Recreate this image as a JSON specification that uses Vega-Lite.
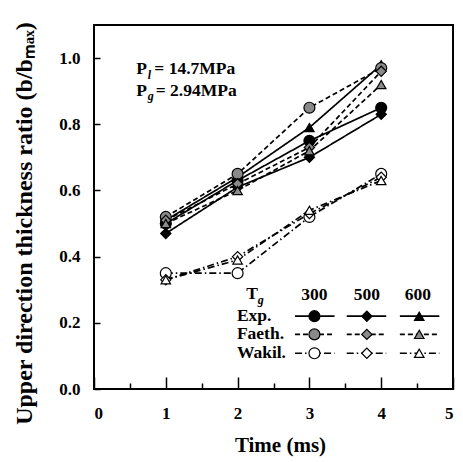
{
  "$schema": "https://vega.github.io/schema/vega-lite/v6.json",
  "width": 359,
  "height": 364,
  "autosize": "none",
  "padding": {"left": 94, "top": 25, "right": 10, "bottom": 73},
  "background": "white",
  "config": {
    "view": {"stroke": "black", "strokeWidth": 2},
    "font": "Liberation Serif",
    "axis": {
      "labelFont": "Liberation Serif",
      "labelFontWeight": "bold",
      "labelFontSize": 17,
      "labelColor": "black",
      "titleFont": "Liberation Serif",
      "titleFontWeight": "bold",
      "titleFontSize": 21,
      "titleColor": "black",
      "tickColor": "black",
      "tickWidth": 1.5,
      "grid": false,
      "domain": false
    }
  },
  "datasets": {
    "main": [
      {"series": "Exp.", "tg": "300", "time": 1, "ratio": 0.50},
      {"series": "Exp.", "tg": "300", "time": 2, "ratio": 0.63},
      {"series": "Exp.", "tg": "300", "time": 3, "ratio": 0.75},
      {"series": "Exp.", "tg": "300", "time": 4, "ratio": 0.85},
      {"series": "Exp.", "tg": "500", "time": 1, "ratio": 0.47},
      {"series": "Exp.", "tg": "500", "time": 2, "ratio": 0.61},
      {"series": "Exp.", "tg": "500", "time": 3, "ratio": 0.70},
      {"series": "Exp.", "tg": "500", "time": 4, "ratio": 0.83},
      {"series": "Exp.", "tg": "600", "time": 1, "ratio": 0.51},
      {"series": "Exp.", "tg": "600", "time": 2, "ratio": 0.64},
      {"series": "Exp.", "tg": "600", "time": 3, "ratio": 0.79},
      {"series": "Exp.", "tg": "600", "time": 4, "ratio": 0.98},
      {"series": "Faeth.", "tg": "300", "time": 1, "ratio": 0.52},
      {"series": "Faeth.", "tg": "300", "time": 2, "ratio": 0.65},
      {"series": "Faeth.", "tg": "300", "time": 3, "ratio": 0.85},
      {"series": "Faeth.", "tg": "300", "time": 4, "ratio": 0.97},
      {"series": "Faeth.", "tg": "500", "time": 1, "ratio": 0.51},
      {"series": "Faeth.", "tg": "500", "time": 2, "ratio": 0.62},
      {"series": "Faeth.", "tg": "500", "time": 3, "ratio": 0.73},
      {"series": "Faeth.", "tg": "500", "time": 4, "ratio": 0.96},
      {"series": "Faeth.", "tg": "600", "time": 1, "ratio": 0.50},
      {"series": "Faeth.", "tg": "600", "time": 2, "ratio": 0.60},
      {"series": "Faeth.", "tg": "600", "time": 3, "ratio": 0.72},
      {"series": "Faeth.", "tg": "600", "time": 4, "ratio": 0.92},
      {"series": "Wakil.", "tg": "300", "time": 1, "ratio": 0.35},
      {"series": "Wakil.", "tg": "300", "time": 2, "ratio": 0.35},
      {"series": "Wakil.", "tg": "300", "time": 3, "ratio": 0.52},
      {"series": "Wakil.", "tg": "300", "time": 4, "ratio": 0.65},
      {"series": "Wakil.", "tg": "500", "time": 1, "ratio": 0.33},
      {"series": "Wakil.", "tg": "500", "time": 2, "ratio": 0.40},
      {"series": "Wakil.", "tg": "500", "time": 3, "ratio": 0.53},
      {"series": "Wakil.", "tg": "500", "time": 4, "ratio": 0.64},
      {"series": "Wakil.", "tg": "600", "time": 1, "ratio": 0.33},
      {"series": "Wakil.", "tg": "600", "time": 2, "ratio": 0.39},
      {"series": "Wakil.", "tg": "600", "time": 3, "ratio": 0.54},
      {"series": "Wakil.", "tg": "600", "time": 4, "ratio": 0.63}
    ],
    "legend": [
      {"series": "Exp.", "tg": "300", "x": 3.07, "x1": 2.80, "x2": 3.35, "y": 0.22},
      {"series": "Exp.", "tg": "500", "x": 3.80, "x1": 3.52, "x2": 4.07, "y": 0.22},
      {"series": "Exp.", "tg": "600", "x": 4.53, "x1": 4.26, "x2": 4.81, "y": 0.22},
      {"series": "Faeth.", "tg": "300", "x": 3.07, "x1": 2.80, "x2": 3.35, "y": 0.165},
      {"series": "Faeth.", "tg": "500", "x": 3.80, "x1": 3.52, "x2": 4.07, "y": 0.165},
      {"series": "Faeth.", "tg": "600", "x": 4.53, "x1": 4.26, "x2": 4.81, "y": 0.165},
      {"series": "Wakil.", "tg": "300", "x": 3.07, "x1": 2.80, "x2": 3.35, "y": 0.108},
      {"series": "Wakil.", "tg": "500", "x": 3.80, "x1": 3.52, "x2": 4.07, "y": 0.108},
      {"series": "Wakil.", "tg": "600", "x": 4.53, "x1": 4.26, "x2": 4.81, "y": 0.108}
    ],
    "texts": [
      {"txt": "T", "x": 2.12, "y": 0.288, "kind": "left"},
      {"txt": "300", "x": 3.07, "y": 0.285, "kind": "center"},
      {"txt": "500", "x": 3.80, "y": 0.285, "kind": "center"},
      {"txt": "600", "x": 4.51, "y": 0.285, "kind": "center"},
      {"txt": "Exp.", "x": 1.99, "y": 0.22, "kind": "left"},
      {"txt": "Faeth.", "x": 1.99, "y": 0.165, "kind": "left"},
      {"txt": "Wakil.", "x": 1.99, "y": 0.108, "kind": "left"},
      {"txt": "P", "x": 0.59, "y": 0.967, "kind": "left"},
      {"txt": "= 14.7MPa", "x": 0.84, "y": 0.967, "kind": "left"},
      {"txt": "P", "x": 0.59, "y": 0.901, "kind": "left"},
      {"txt": "= 2.94MPa", "x": 0.86, "y": 0.901, "kind": "left"},
      {"txt": "g", "x": 2.28, "y": 0.27, "kind": "sub"},
      {"txt": "l", "x": 0.75, "y": 0.950, "kind": "sub"},
      {"txt": "g", "x": 0.75, "y": 0.884, "kind": "sub"}
    ]
  },
  "resolve": {"axis": {"x": "independent"}},
  "layer": [
    {
      "data": {"name": "main"},
      "mark": {"type": "line", "color": "black", "strokeWidth": 1.7},
      "encoding": {
        "x": {
          "field": "time", "type": "quantitative",
          "scale": {"domain": [0, 5], "nice": false},
          "axis": {"values": [0, 1, 2, 3, 4, 5], "tickSize": -12, "labelPadding": 28, "title": "Time (ms)", "titlePadding": 13, "titleX": 186, "orient": "bottom"}
        },
        "y": {
          "field": "ratio", "type": "quantitative",
          "title": "Upper direction thickness ratio (b/bₘₐₓ)",
          "scale": {"domain": [0, 1.1], "nice": false},
          "axis": {"values": [0, 0.2, 0.4, 0.6, 0.8, 1.0], "format": ".1f", "tickSize": -6, "labelPadding": 20, "titlePadding": 22, "titleFontSize": 24, "titleY": 198}
        },
        "detail": [{"field": "series"}, {"field": "tg"}],
        "strokeDash": {
          "field": "series", "type": "nominal",
          "scale": {"domain": ["Exp.", "Faeth.", "Wakil."], "range": [[1, 0], [5, 3], [7, 3, 1.5, 3]]},
          "legend": null
        }
      }
    },
    {
      "data": {"name": "main"},
      "mark": {"type": "point", "filled": true, "stroke": "black", "strokeWidth": 1.2, "opacity": 1},
      "encoding": {
        "x": {
          "field": "time", "type": "quantitative",
          "axis": {"values": [0.5, 1.5, 2.5, 3.5, 4.5], "tickSize": -6, "labels": false, "title": null, "orient": "bottom"}
        },
        "y": {"field": "ratio", "type": "quantitative", "title": "Upper direction thickness ratio (b/bₘₐₓ)"},
        "shape": {
          "field": "tg", "type": "nominal",
          "scale": {"domain": ["300", "500", "600"], "range": ["circle", "diamond", "triangle-up"]},
          "legend": null
        },
        "fill": {
          "field": "series", "type": "nominal",
          "scale": {"domain": ["Exp.", "Faeth.", "Wakil."], "range": ["black", "#8a8a8a", "white"]},
          "legend": null
        },
        "size": {
          "field": "tg", "type": "nominal",
          "scale": {"domain": ["300", "500", "600"], "range": [120, 90, 90]},
          "legend": null
        }
      }
    },
    {
      "data": {"name": "legend"},
      "mark": {"type": "rule", "color": "black", "strokeWidth": 1.7},
      "encoding": {
        "x": {"field": "x1", "type": "quantitative", "axis": null},
        "x2": {"field": "x2"},
        "y": {"field": "y", "type": "quantitative", "title": "Upper direction thickness ratio (b/bₘₐₓ)"},
        "strokeDash": {"field": "series", "type": "nominal", "legend": null}
      }
    },
    {
      "data": {"name": "legend"},
      "mark": {"type": "point", "filled": true, "stroke": "black", "strokeWidth": 1.2, "opacity": 1},
      "encoding": {
        "x": {"field": "x", "type": "quantitative", "axis": null},
        "y": {"field": "y", "type": "quantitative", "title": "Upper direction thickness ratio (b/bₘₐₓ)"},
        "shape": {"field": "tg", "type": "nominal", "legend": null},
        "fill": {"field": "series", "type": "nominal", "legend": null},
        "size": {"field": "tg", "type": "nominal", "legend": null}
      }
    },
    {
      "data": {"name": "texts"},
      "transform": [{"filter": "datum.kind === 'left'"}],
      "mark": {"type": "text", "font": "Liberation Serif", "fontWeight": "bold", "fontSize": 17.5, "baseline": "middle", "align": "left", "color": "black"},
      "encoding": {
        "x": {"field": "x", "type": "quantitative", "axis": null},
        "y": {"field": "y", "type": "quantitative", "title": "Upper direction thickness ratio (b/bₘₐₓ)"},
        "text": {"field": "txt"}
      }
    },
    {
      "data": {"name": "texts"},
      "transform": [{"filter": "datum.kind === 'center'"}],
      "mark": {"type": "text", "font": "Liberation Serif", "fontWeight": "bold", "fontSize": 17.5, "baseline": "middle", "align": "center", "color": "black"},
      "encoding": {
        "x": {"field": "x", "type": "quantitative", "axis": null},
        "y": {"field": "y", "type": "quantitative", "title": "Upper direction thickness ratio (b/bₘₐₓ)"},
        "text": {"field": "txt"}
      }
    },
    {
      "data": {"name": "texts"},
      "transform": [{"filter": "datum.kind === 'sub'"}],
      "mark": {"type": "text", "font": "Liberation Serif", "fontWeight": "bold", "fontStyle": "italic", "fontSize": 12, "baseline": "middle", "align": "left", "color": "black"},
      "encoding": {
        "x": {"field": "x", "type": "quantitative", "axis": null},
        "y": {"field": "y", "type": "quantitative", "title": "Upper direction thickness ratio (b/bₘₐₓ)"},
        "text": {"field": "txt"}
      }
    }
  ]
}
